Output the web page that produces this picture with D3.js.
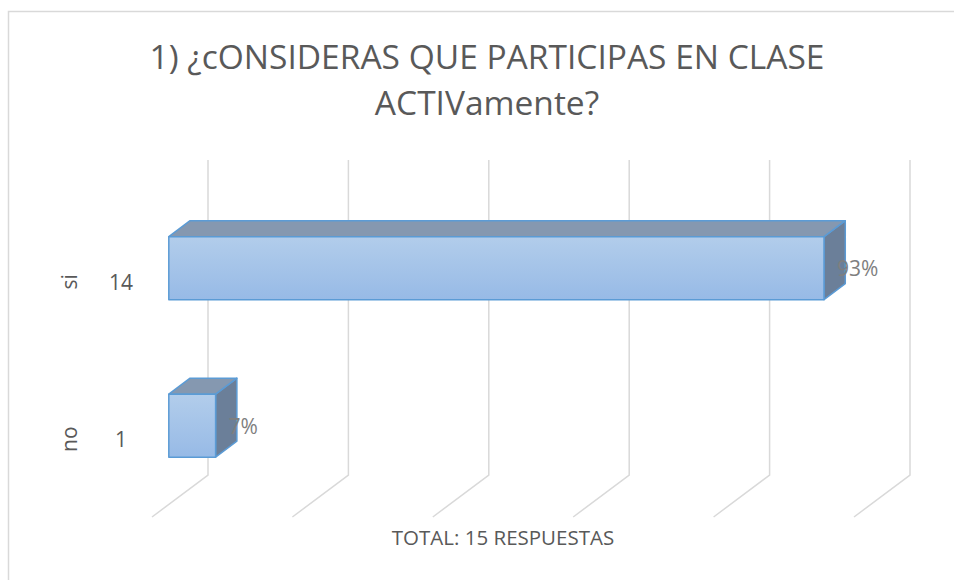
<!DOCTYPE html>
<html>
<head>
<meta charset="utf-8">
<script src="https://cdn.jsdelivr.net/npm/d3@7"></script>
<style>
  html, body { margin: 0; padding: 0; background: #fff; }
  svg text { font-family: "Open Sans", "Liberation Sans", sans-serif; fill: #595959; }
</style>
</head>
<body>
<svg id="chart" width="954" height="580"></svg>
<script>
/* ── DATA ───────────────────────────────────────────────────────────────────── */
const categories   = ['si', 'no'];
const counts       = [14, 1];
const countLabels  = ['14', '1'];
const pctLabels    = ['93%', '7%'];
const tickValues   = [0, 3, 6, 9, 12, 15];
const titleLines   = ['1) ¿cONSIDERAS QUE PARTICIPAS EN CLASE', 'ACTIVamente?'];
const axisTitle    = 'TOTAL: 15 RESPUESTAS';

/* ── LAYOUT ─────────────────────────────────────────────────────────────────── */
const svg = d3.select('#chart');
const W = 954, H = 580;

// 3D: depth 0 = front plane, depth 1 = back wall
const DEPTH_X = 56, DEPTH_Y = -42;
const BAR_D0 = 0.30, BAR_D1 = 0.68;

const x = d3.scaleLinear().domain([0, 15]).range([152, 854]);
const y = d3.scaleBand().domain(categories).range([202, 517])
  .paddingInner(0.6).paddingOuter(0.3);

const proj = (px, py, d) => [px + d * DEPTH_X, py + d * DEPTH_Y];
const poly = pts => 'M' + pts.map(p => p.join(',')).join('L') + 'Z';

// gradient for bar fronts
const defs = svg.append('defs');
const grad = defs.append('linearGradient').attr('id', 'barFront')
  .attr('x1', 0).attr('y1', 0).attr('x2', 0).attr('y2', 1);
grad.append('stop').attr('offset', '0%').attr('stop-color', '#b2cdeb');
grad.append('stop').attr('offset', '100%').attr('stop-color', '#97bae6');

// chart border
svg.append('rect')
  .attr('x', 8.5).attr('y', 11.5).attr('width', W).attr('height', H)
  .attr('fill', 'none').attr('stroke', '#d9d9d9').attr('stroke-width', 1.5);

/* ── TITLE ──────────────────────────────────────────────────────────────────── */
svg.selectAll('.title')
  .data(titleLines)
  .join('text')
  .attr('class', 'title')
  .attr('x', 487)
  .attr('y', (d, i) => 69 + i * 46)
  .attr('text-anchor', 'middle')
  .attr('font-size', 33.5)
  .text(d => d);

/* ── GRID (back wall + floor) ───────────────────────────────────────────────── */
const floorY = y.range()[1];
const topY   = y.range()[0];
const grid = svg.append('g').attr('stroke', '#d9d9d9').attr('stroke-width', 1.5).attr('fill', 'none');

grid.selectAll('path')
  .data(tickValues)
  .join('path')
  .attr('d', v => {
    const a = proj(x(v), topY, 1);
    const b = proj(x(v), floorY, 1);
    const c = proj(x(v), floorY, 0);
    return `M${a}L${b}L${c}`;
  });

/* ── BARS ───────────────────────────────────────────────────────────────────── */
const bars = svg.append('g')
  .selectAll('g')
  .data(categories.map((c, i) => ({ cat: c, val: counts[i] })))
  .join('g')
  .attr('stroke', '#5b9bd5').attr('stroke-width', 1.5).attr('stroke-linejoin', 'round');

// right side face
bars.append('path')
  .attr('fill', '#6b7f99')
  .attr('d', d => {
    const x1 = x(d.val), y0 = y(d.cat), y1 = y0 + y.bandwidth();
    return poly([proj(x1, y0, BAR_D0), proj(x1, y0, BAR_D1), proj(x1, y1, BAR_D1), proj(x1, y1, BAR_D0)]);
  });

// top face
bars.append('path')
  .attr('fill', '#8598b0')
  .attr('d', d => {
    const x0 = x(0), x1 = x(d.val), y0 = y(d.cat);
    return poly([proj(x0, y0, BAR_D0), proj(x0, y0, BAR_D1), proj(x1, y0, BAR_D1), proj(x1, y0, BAR_D0)]);
  });

// front face
bars.append('path')
  .attr('fill', 'url(#barFront)')
  .attr('d', d => {
    const x0 = x(0), x1 = x(d.val), y0 = y(d.cat), y1 = y0 + y.bandwidth();
    return poly([proj(x0, y0, BAR_D0), proj(x1, y0, BAR_D0), proj(x1, y1, BAR_D0), proj(x0, y1, BAR_D0)]);
  });

/* ── DATA LABELS ────────────────────────────────────────────────────────────── */
svg.selectAll('.pct')
  .data(categories)
  .join('text')
  .attr('class', 'pct')
  .attr('x', (d, i) => proj(x(counts[i]), 0, BAR_D0)[0] + 13)
  .attr('y', d => proj(0, y(d) + y.bandwidth() / 2, BAR_D0)[1] + 8)
  .attr('font-size', 21)
  .style('fill', '#7f7f7f')
  .text((d, i) => pctLabels[i]);

/* ── CATEGORY AXIS (two levels) ─────────────────────────────────────────────── */
svg.selectAll('.inner')
  .data(categories)
  .join('text')
  .attr('class', 'inner')
  .attr('x', 121)
  .attr('y', d => y(d) + y.bandwidth() / 2 + 9)
  .attr('text-anchor', 'middle')
  .attr('font-size', 21)
  .text((d, i) => countLabels[i]);

svg.selectAll('.outer')
  .data(categories)
  .join('text')
  .attr('class', 'outer')
  .attr('transform', d => `translate(${77},${y(d) + y.bandwidth() / 2 + 1}) rotate(-90)`)
  .attr('text-anchor', 'middle')
  .attr('font-size', 21)
  .text(d => d);

/* ── AXIS TITLE ─────────────────────────────────────────────────────────────── */
svg.append('text')
  .attr('x', 503)
  .attr('y', 545)
  .attr('text-anchor', 'middle')
  .attr('font-size', 20.5)
  .text(axisTitle);
</script>
</body>
</html>
